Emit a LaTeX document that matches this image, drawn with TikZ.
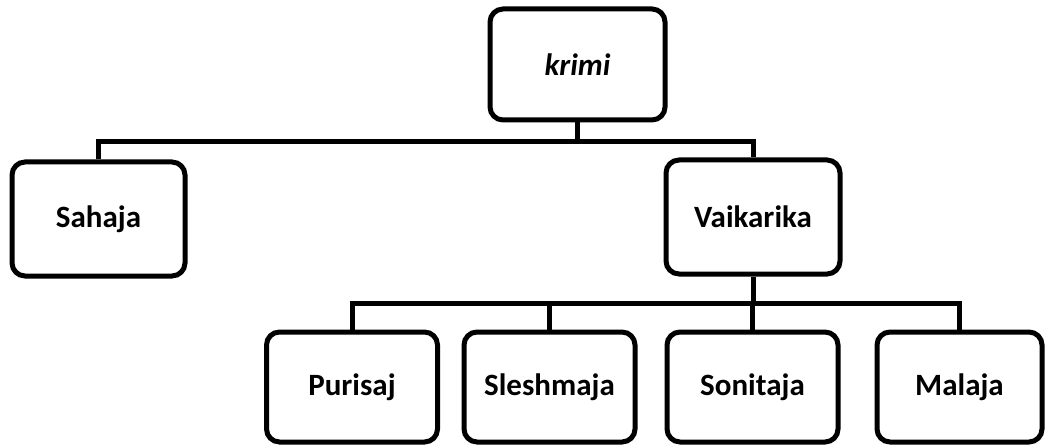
\documentclass[tikz,border=0pt]{standalone}
\usepackage{fontspec}
\setmainfont{Carlito}
\begin{document}
\begin{tikzpicture}[x=1pt,y=-1pt,
  box/.style={draw=black,line width=5pt,rounded corners=13pt,fill=white,
    font=\bfseries\fontsize{31}{36}\selectfont,inner sep=0pt},
  conn/.style={draw=black,line width=5pt}]
\useasboundingbox (0,0) rectangle (1046,446);
\node[box,minimum width=175pt,minimum height=111pt] (krimi) at (577.5,64.5) {\itshape krimi};
\node[box,minimum width=173pt,minimum height=114pt] (sah) at (98.5,219) {Sahaja};
\node[box,minimum width=174pt,minimum height=114pt] (vai) at (753,217) {Vaikarika};
\node[box,minimum width=171pt,minimum height=110pt] (pur) at (352,387) {Purisaj};
\node[box,minimum width=171pt,minimum height=110pt] (sle) at (549.5,387) {Sleshmaja};
\node[box,minimum width=171pt,minimum height=110pt] (son) at (752.5,387) {Sonitaja};
\node[box,minimum width=165pt,minimum height=110pt] (mal) at (959.5,387) {Malaja};
\coordinate (b1) at (577.5,142);
\coordinate (b2) at (753,303);
\draw[conn] (krimi.south) -- (b1);
\draw[conn] (b1) -| (sah.north);
\draw[conn] (b1) -| (vai.north);
\draw[conn] (vai.south) -- (b2);
\draw[conn] (b2) -| (pur.north);
\draw[conn] (b2) -| (sle.north);
\draw[conn] (b2) -| (son.north);
\draw[conn] (b2) -| (mal.north);
\end{tikzpicture}
\end{document}
